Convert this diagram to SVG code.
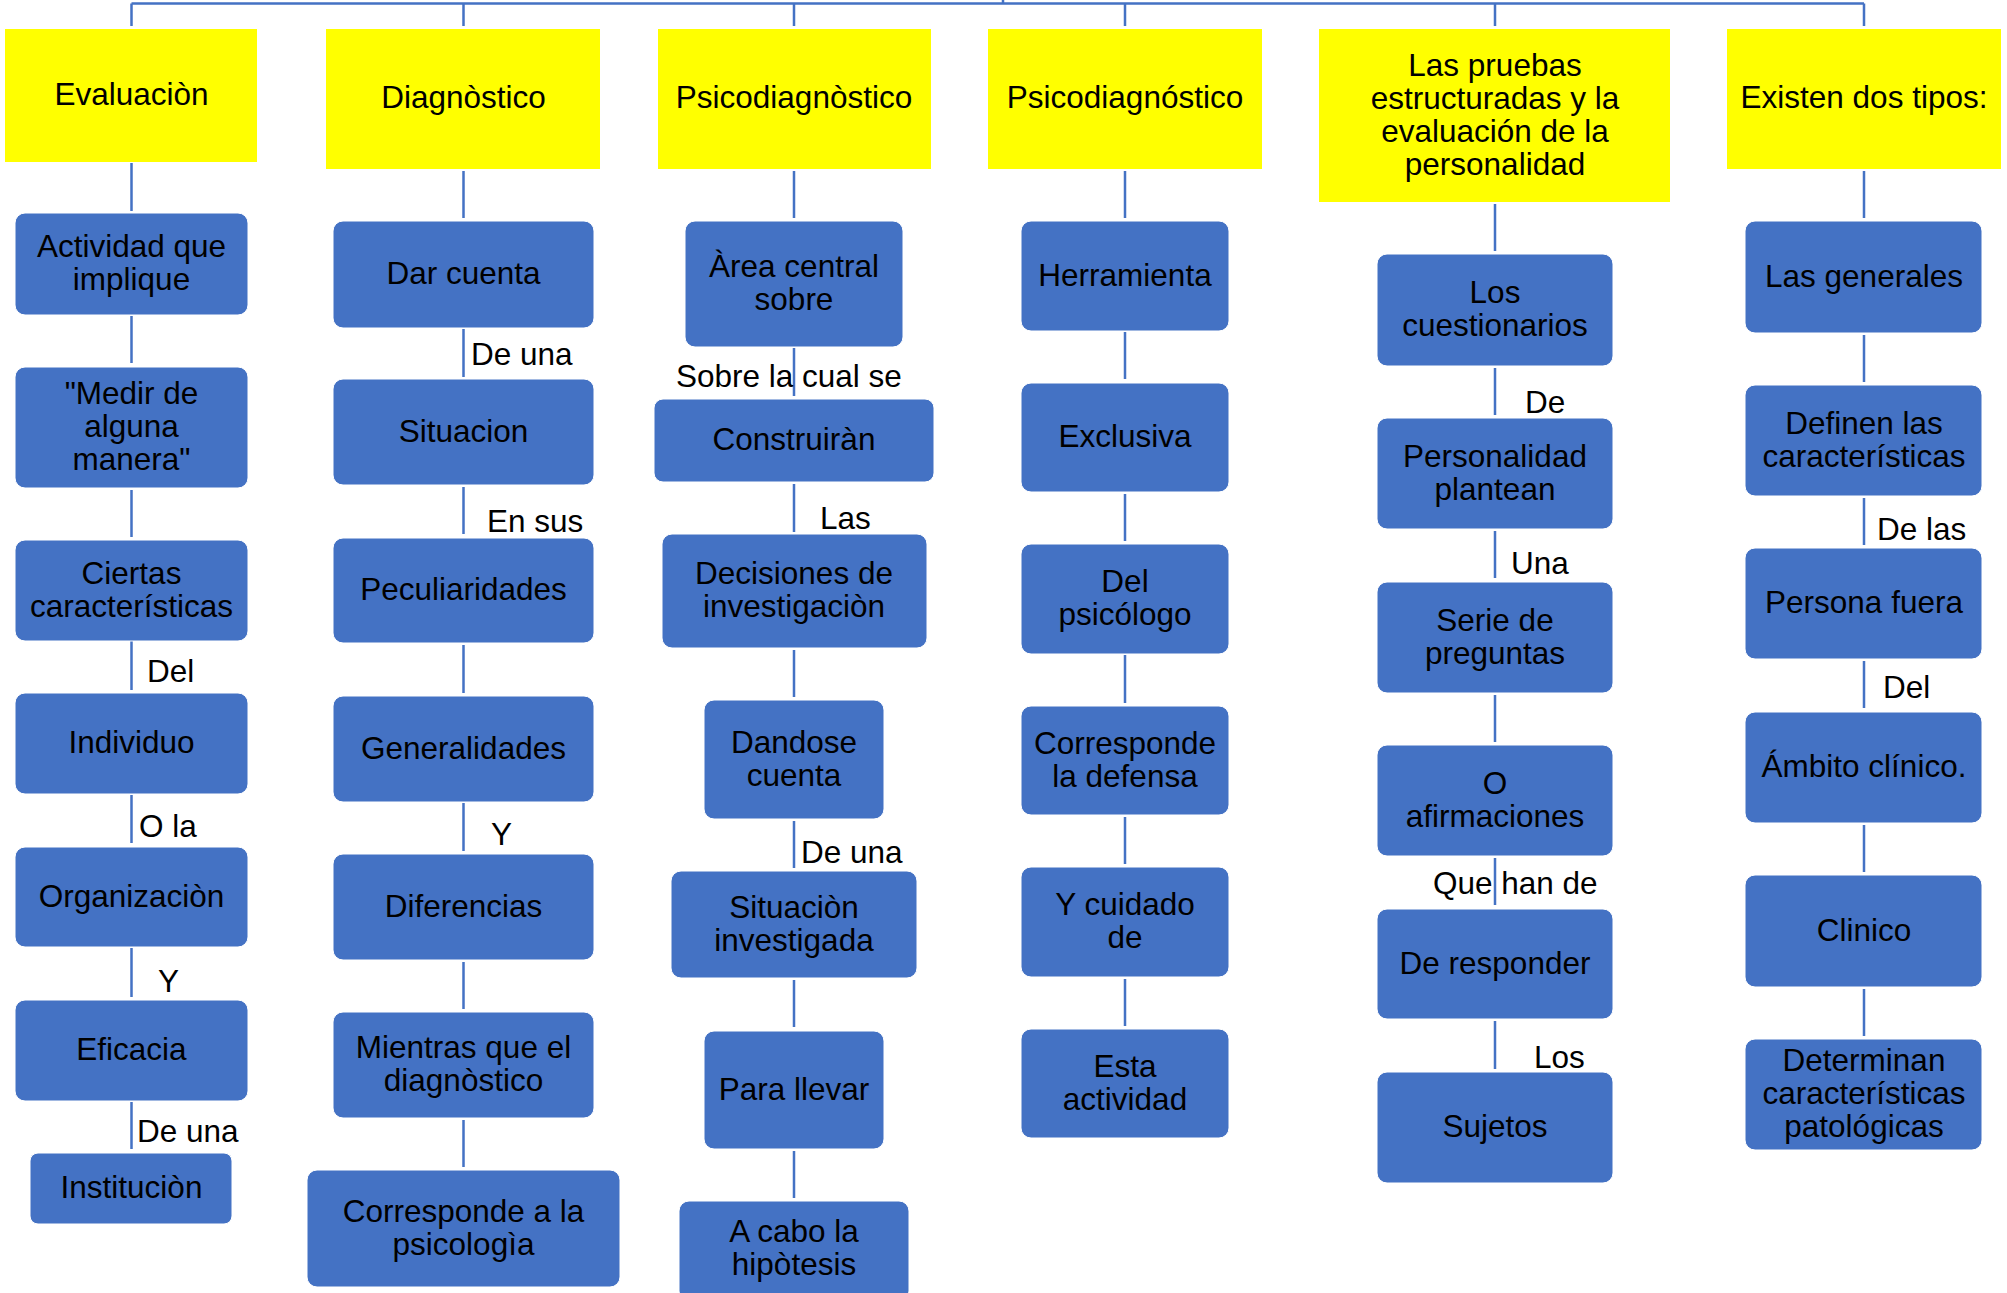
<svg xmlns="http://www.w3.org/2000/svg" width="2007" height="1293" viewBox="0 0 2007 1293">
<style>
.y{fill:#FFFF00}
.b{fill:#4472C4;stroke:#ffffff;stroke-width:1}
.c{stroke:#4472C4;stroke-width:2.5;fill:none}
text{font-family:"Liberation Sans",Arial,sans-serif;font-size:31.5px;fill:#000}
.m{text-anchor:middle}
</style>
<rect width="2007" height="1293" fill="#ffffff"/>
<g id="connectors">
<path class="c" d="M131.5,3.5H1864M1003,0V3.5M131.5,3.5V26M463.5,3.5V26M794,3.5V26M1125,3.5V26M1495,3.5V26M1864,3.5V26"/>
<path class="c" d="M131.5,163V211M131.5,316V363M131.5,490V537M131.5,641V690M131.5,795V843M131.5,948V997M131.5,1102V1149"/>
<path class="c" d="M463.5,171V218M463.5,329V377M463.5,487V534M463.5,645V693M463.5,803V851M463.5,962V1009M463.5,1120V1167"/>
<path class="c" d="M794,171V218M794,348V396M794,484V532M794,650V697M794,821V868M794,980V1027M794,1151V1198"/>
<path class="c" d="M1125,171V218M1125,332V379M1125,494V541M1125,655V703M1125,817V864M1125,979V1026"/>
<path class="c" d="M1495,204V251M1495,368V415M1495,531V578M1495,695V742M1495,858V905M1495,1021V1069"/>
<path class="c" d="M1864,171V218M1864,335V382M1864,498V545M1864,661V708M1864,825V872M1864,989V1036"/>
<text x="147" y="682">Del</text>
<text x="139" y="837">O la</text>
<text x="158" y="992">Y</text>
<text x="137" y="1142">De una</text>
<text x="471" y="365">De una</text>
<text x="487" y="532">En sus</text>
<text x="491" y="845">Y</text>
<text x="676" y="387">Sobre la cual se</text>
<text x="820" y="529">Las</text>
<text x="801" y="863">De una</text>
<text x="1525" y="413">De</text>
<text x="1511" y="574">Una</text>
<text x="1433" y="894">Que han de</text>
<text x="1534" y="1068">Los</text>
<text x="1877" y="540">De las</text>
<text x="1883" y="698">Del</text>
</g>
<!-- Column 1 -->
<g id="evaluacion"><rect class="y" x="5" y="29" width="252" height="133"/><text class="m" x="131.5" y="105">Evaluaciòn</text></g>
<g id="actividad"><rect class="b" x="15" y="213" width="233" height="102" rx="10"/><text class="m" x="131.5" y="257"><tspan x="131.5">Actividad que</tspan><tspan x="131.5" dy="33">implique</tspan></text></g>
<g id="medir"><rect class="b" x="15" y="367" width="233" height="121" rx="10"/><text class="m" x="131.5" y="404"><tspan x="131.5">"Medir de</tspan><tspan x="131.5" dy="33">alguna</tspan><tspan x="131.5" dy="33">manera"</tspan></text></g>
<g id="ciertas"><rect class="b" x="15" y="540" width="233" height="101" rx="10"/><text class="m" x="131.5" y="583.5"><tspan x="131.5">Ciertas</tspan><tspan x="131.5" dy="33">características</tspan></text></g>
<g id="individuo"><rect class="b" x="15" y="693" width="233" height="101" rx="10"/><text class="m" x="131.5" y="753">Individuo</text></g>
<g id="organizacion"><rect class="b" x="15" y="847" width="233" height="100" rx="10"/><text class="m" x="131.5" y="906.5">Organizaciòn</text></g>
<g id="eficacia"><rect class="b" x="15" y="1000" width="233" height="101" rx="10"/><text class="m" x="131.5" y="1060">Eficacia</text></g>
<g id="institucion"><rect class="b" x="30" y="1153" width="202" height="71" rx="8"/><text class="m" x="131.5" y="1198">Instituciòn</text></g>
<!-- Column 2 -->
<g id="diagnostico"><rect class="y" x="326" y="29" width="274" height="140"/><text class="m" x="463.5" y="108">Diagnòstico</text></g>
<g id="dar-cuenta"><rect class="b" x="333" y="221" width="261" height="107" rx="10"/><text class="m" x="463.5" y="284">Dar cuenta</text></g>
<g id="situacion"><rect class="b" x="333" y="379" width="261" height="106" rx="10"/><text class="m" x="463.5" y="441.5">Situacion</text></g>
<g id="peculiaridades"><rect class="b" x="333" y="538" width="261" height="105" rx="10"/><text class="m" x="463.5" y="600">Peculiaridades</text></g>
<g id="generalidades"><rect class="b" x="333" y="696" width="261" height="106" rx="10"/><text class="m" x="463.5" y="758.5">Generalidades</text></g>
<g id="diferencias"><rect class="b" x="333" y="854" width="261" height="106" rx="10"/><text class="m" x="463.5" y="916.5">Diferencias</text></g>
<g id="mientras"><rect class="b" x="333" y="1012" width="261" height="106" rx="10"/><text class="m" x="463.5" y="1058"><tspan x="463.5">Mientras que el</tspan><tspan x="463.5" dy="33">diagnòstico</tspan></text></g>
<g id="corresponde-psicologia"><rect class="b" x="307" y="1170" width="313" height="117" rx="10"/><text class="m" x="463.5" y="1221.5"><tspan x="463.5">Corresponde a la</tspan><tspan x="463.5" dy="33">psicologìa</tspan></text></g>
<!-- Column 3 -->
<g id="psicodiagnostico1"><rect class="y" x="658" y="29" width="273" height="140"/><text class="m" x="794" y="108">Psicodiagnòstico</text></g>
<g id="area-central"><rect class="b" x="685" y="221" width="218" height="126" rx="10"/><text class="m" x="794" y="277"><tspan x="794">Àrea central</tspan><tspan x="794" dy="33">sobre</tspan></text></g>
<g id="construiran"><rect class="b" x="654" y="399" width="280" height="83" rx="9"/><text class="m" x="794" y="450">Construiràn</text></g>
<g id="decisiones"><rect class="b" x="662" y="534" width="265" height="114" rx="10"/><text class="m" x="794" y="584"><tspan x="794">Decisiones de</tspan><tspan x="794" dy="33">investigaciòn</tspan></text></g>
<g id="dandose"><rect class="b" x="704" y="700" width="180" height="119" rx="10"/><text class="m" x="794" y="752.5"><tspan x="794">Dandose</tspan><tspan x="794" dy="33">cuenta</tspan></text></g>
<g id="situacion-investigada"><rect class="b" x="671" y="871" width="246" height="107" rx="10"/><text class="m" x="794" y="917.5"><tspan x="794">Situaciòn</tspan><tspan x="794" dy="33">investigada</tspan></text></g>
<g id="para-llevar"><rect class="b" x="704" y="1031" width="180" height="118" rx="10"/><text class="m" x="794" y="1099.5">Para llevar</text></g>
<g id="a-cabo"><rect class="b" x="679" y="1201" width="230" height="100" rx="10"/><text class="m" x="794" y="1242"><tspan x="794">A cabo la</tspan><tspan x="794" dy="33">hipòtesis</tspan></text></g>
<!-- Column 4 -->
<g id="psicodiagnostico2"><rect class="y" x="988" y="29" width="274" height="140"/><text class="m" x="1125" y="108">Psicodiagnóstico</text></g>
<g id="herramienta"><rect class="b" x="1021" y="221" width="208" height="110" rx="10"/><text class="m" x="1125" y="285.5">Herramienta</text></g>
<g id="exclusiva"><rect class="b" x="1021" y="383" width="208" height="109" rx="10"/><text class="m" x="1125" y="447">Exclusiva</text></g>
<g id="del-psicologo"><rect class="b" x="1021" y="544" width="208" height="110" rx="10"/><text class="m" x="1125" y="592"><tspan x="1125">Del</tspan><tspan x="1125" dy="33">psicólogo</tspan></text></g>
<g id="corresponde-defensa"><rect class="b" x="1021" y="706" width="208" height="109" rx="10"/><text class="m" x="1125" y="753.5"><tspan x="1125">Corresponde</tspan><tspan x="1125" dy="33">la defensa</tspan></text></g>
<g id="y-cuidado"><rect class="b" x="1021" y="867" width="208" height="110" rx="10"/><text class="m" x="1125" y="915"><tspan x="1125">Y cuidado</tspan><tspan x="1125" dy="33">de</tspan></text></g>
<g id="esta-actividad"><rect class="b" x="1021" y="1029" width="208" height="109" rx="10"/><text class="m" x="1125" y="1076.5"><tspan x="1125">Esta</tspan><tspan x="1125" dy="33">actividad</tspan></text></g>
<!-- Column 5 -->
<g id="pruebas"><rect class="y" x="1319" y="29" width="351" height="173"/><text class="m" x="1495" y="75.5"><tspan x="1495">Las pruebas</tspan><tspan x="1495" dy="33">estructuradas y la</tspan><tspan x="1495" dy="33">evaluación de la</tspan><tspan x="1495" dy="33">personalidad</tspan></text></g>
<g id="cuestionarios"><rect class="b" x="1377" y="254" width="236" height="112" rx="10"/><text class="m" x="1495" y="303"><tspan x="1495">Los</tspan><tspan x="1495" dy="33">cuestionarios</tspan></text></g>
<g id="personalidad"><rect class="b" x="1377" y="418" width="236" height="111" rx="10"/><text class="m" x="1495" y="466.5"><tspan x="1495">Personalidad</tspan><tspan x="1495" dy="33">plantean</tspan></text></g>
<g id="serie"><rect class="b" x="1377" y="582" width="236" height="111" rx="10"/><text class="m" x="1495" y="630.5"><tspan x="1495">Serie de</tspan><tspan x="1495" dy="33">preguntas</tspan></text></g>
<g id="afirmaciones"><rect class="b" x="1377" y="745" width="236" height="111" rx="10"/><text class="m" x="1495" y="793.5"><tspan x="1495">O</tspan><tspan x="1495" dy="33">afirmaciones</tspan></text></g>
<g id="responder"><rect class="b" x="1377" y="909" width="236" height="110" rx="10"/><text class="m" x="1495" y="973.5">De responder</text></g>
<g id="sujetos"><rect class="b" x="1377" y="1072" width="236" height="111" rx="10"/><text class="m" x="1495" y="1137">Sujetos</text></g>
<!-- Column 6 -->
<g id="existen"><rect class="y" x="1727" y="29" width="274" height="140"/><text class="m" x="1864" y="108">Existen dos tipos:</text></g>
<g id="generales"><rect class="b" x="1745" y="221" width="237" height="112" rx="10"/><text class="m" x="1864" y="286.5">Las generales</text></g>
<g id="definen"><rect class="b" x="1745" y="385" width="237" height="111" rx="10"/><text class="m" x="1864" y="433.5"><tspan x="1864">Definen las</tspan><tspan x="1864" dy="33">características</tspan></text></g>
<g id="persona-fuera"><rect class="b" x="1745" y="548" width="237" height="111" rx="10"/><text class="m" x="1864" y="613">Persona fuera</text></g>
<g id="ambito"><rect class="b" x="1745" y="712" width="237" height="111" rx="10"/><text class="m" x="1864" y="777">Ámbito clínico.</text></g>
<g id="clinico"><rect class="b" x="1745" y="875" width="237" height="112" rx="10"/><text class="m" x="1864" y="940.5">Clinico</text></g>
<g id="determinan"><rect class="b" x="1745" y="1039" width="237" height="111" rx="10"/><text class="m" x="1864" y="1071"><tspan x="1864">Determinan</tspan><tspan x="1864" dy="33">características</tspan><tspan x="1864" dy="33">patológicas</tspan></text></g>
</svg>
